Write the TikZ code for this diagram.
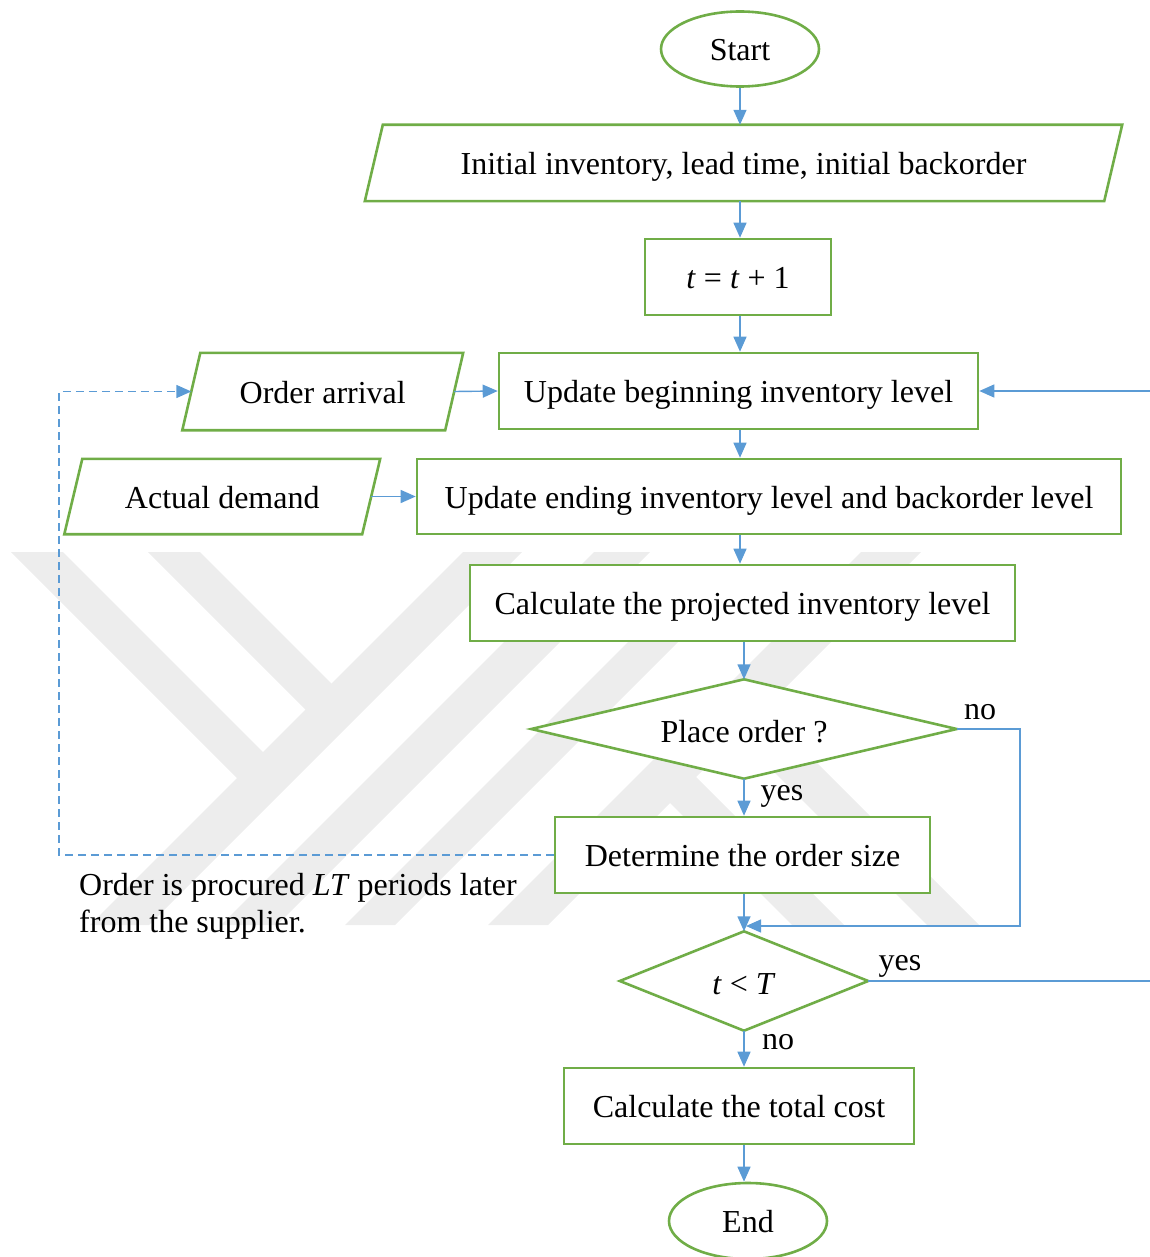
\documentclass[tikz,border=0pt]{standalone}
\usepackage{fontspec}
\setmainfont{Liberation Serif}
\usetikzlibrary{shapes.geometric,arrows.meta,backgrounds}
\definecolor{boxgreen}{HTML}{70AD47}
\definecolor{linkblue}{HTML}{5B9BD5}
\definecolor{markgray}{HTML}{EDEDED}

\begin{document}
\begin{tikzpicture}[x=1pt,y=-1pt,
  every node/.style={font=\fontsize{32}{37}\selectfont, inner sep=0pt},
  boxtext/.style={text height=26.2pt, text depth=3.2pt},
  procbox/.style={rectangle, boxtext, draw=boxgreen, line width=2.6pt, fill=white, minimum height=76pt},
  iobox/.style={rectangle, boxtext, minimum height=76pt},
  ioline/.style={draw=boxgreen, line width=2.6pt, line join=miter},
  termbox/.style={ellipse, boxtext, draw=boxgreen, line width=2.6pt, fill=white, minimum width=158pt, minimum height=75pt},
  decbox/.style={rectangle, text height=28.8pt, text depth=1.6pt, minimum height=99pt},
  decline/.style={draw=boxgreen, fill=white, line width=2.6pt},
  lbl/.style={boxtext},
  markband/.style={fill=markgray, draw=none},
  arr/.style={draw=linkblue, line width=1.4pt, -{Triangle[length=15pt,width=13pt]}},
  dasharr/.style={arr, dash pattern=on 8pt off 5pt}
]
\useasboundingbox (0,0) rectangle (1150,1257);

% faint background emblem
\begin{scope}[on background layer]
  \path[markband] (463,552) -- (522,552) -- (149,925) -- (90,925) -- cycle;
  \path[markband] (11,552) -- (63,552) -- (264,753) -- (238,779) -- cycle;
  \path[markband] (148,552) -- (200,552) -- (333,685) -- (307,711) -- cycle;
  \path[markband] (594,552) -- (650,552) -- (277,925) -- (221,925) -- cycle;
  \path[markband] (670,600) -- (720,600) -- (395,925) -- (345,925) -- cycle;
  \path[markband] (861,552) -- (921,552) -- (548,925) -- (488,925) -- cycle;
  \path[markband] (694,775) -- (844,925) -- (792,925) -- (668,801) -- cycle;
  \path[markband] (762,708) -- (979,925) -- (927,925) -- (736,734) -- cycle;
\end{scope}

% flow nodes
\node[termbox] (start) at (740,49) {Start};
\node[iobox, minimum width=739pt] (init) at (743.5,163) {Initial inventory, lead time, initial backorder};
\node[procbox, minimum width=186pt] (tt) at (738,277) {\textit{t} = \textit{t} + 1};
\node[procbox, minimum width=479pt] (ub) at (738.5,391) {Update beginning inventory level};
\node[iobox, minimum width=262.5pt, minimum height=77pt] (oa) at (322.75,391.5) {Order arrival};
\node[procbox, minimum width=704pt, minimum height=75pt] (ue) at (769,496.5) {Update ending inventory level and backorder level};
\node[iobox, minimum width=297.5pt, minimum height=75pt] (ad) at (222.25,496.5) {Actual demand};
\node[procbox, minimum width=545pt] (calc) at (742.5,603) {Calculate the projected inventory level};
\node[decbox, minimum width=425pt] (pd) at (744,729) {Place order ?};
\node[procbox, minimum width=375pt] (det) at (742.5,855) {Determine the order size};
\node[decbox, minimum width=248pt] (d2) at (744,981) {\textit{t} < \textit{T}};
\node[procbox, minimum width=350pt] (cost) at (739,1106) {Calculate the total cost};
\node[termbox, minimum height=76pt] (end) at (748,1221) {End};

% slanted outlines of the data nodes
\foreach \n in {init,oa,ad}
  \draw[ioline] ([xshift=9pt]\n.north west) -- ([xshift=9pt]\n.north east)
     -- ([xshift=-9pt]\n.south east) -- ([xshift=-9pt]\n.south west) -- cycle;

% decision outlines, kept under their texts
\begin{scope}[on background layer]
  \foreach \n in {pd,d2}
    \path[decline] (\n.west) -- (\n.north) -- (\n.east) -- (\n.south) -- cycle;
\end{scope}

% side note
\node[anchor=north west, align=left] (note) at (79,873) {Order is procured \textit{LT} periods later\\from the supplier.};

% branch labels
\node[lbl] (yes1) at (782,789) {yes};
\node[lbl] (no1) at (980,708) {no};
\node[lbl] (yes2) at (900,959) {yes};
\node[lbl] (no2) at (778,1038) {no};

% routing coordinates
\coordinate (spa) at (740,0);
\coordinate (spb) at (744,0);
\coordinate (lx) at (59,0);
\coordinate (rx) at (1020,0);
\coordinate (jn) at (746,926);
\coordinate (ex) at (1153,0);

% main spine
\draw[arr] (start.south -| spa) -- (init.north -| spa);
\draw[arr] (init.south -| spa) -- (tt.north -| spa);
\draw[arr] (tt.south -| spa) -- (ub.north -| spa);
\draw[arr] (ub.south -| spa) -- (ue.north -| spa);
\draw[arr] (ue.south -| spa) -- (calc.north -| spa);
\draw[arr] (calc.south -| spb) -- (pd.north);
\draw[arr] (pd.south) -- (det.north -| pd.south);
\draw[arr] (det.south -| spb) -- (d2.north);
\draw[arr] (d2.south) -- (cost.north -| d2.south);
\draw[arr] (cost.south -| spb) -- (end.north -| spb);

% inputs
\draw[arr] (oa.east) -- (ub.west);
\draw[arr] (ad.east) -- (ue.west);

% order lead-time feedback
\draw[dasharr] (det.west) -- (det.west -| lx) |- (oa.west);

% no order: skip sizing
\draw[arr] (pd.east) -| (jn -| rx) -- (jn);

% next period loop
\draw[arr] (d2.east) -- (d2.east -| ex) |- (ub.east);
\end{tikzpicture}
\end{document}
